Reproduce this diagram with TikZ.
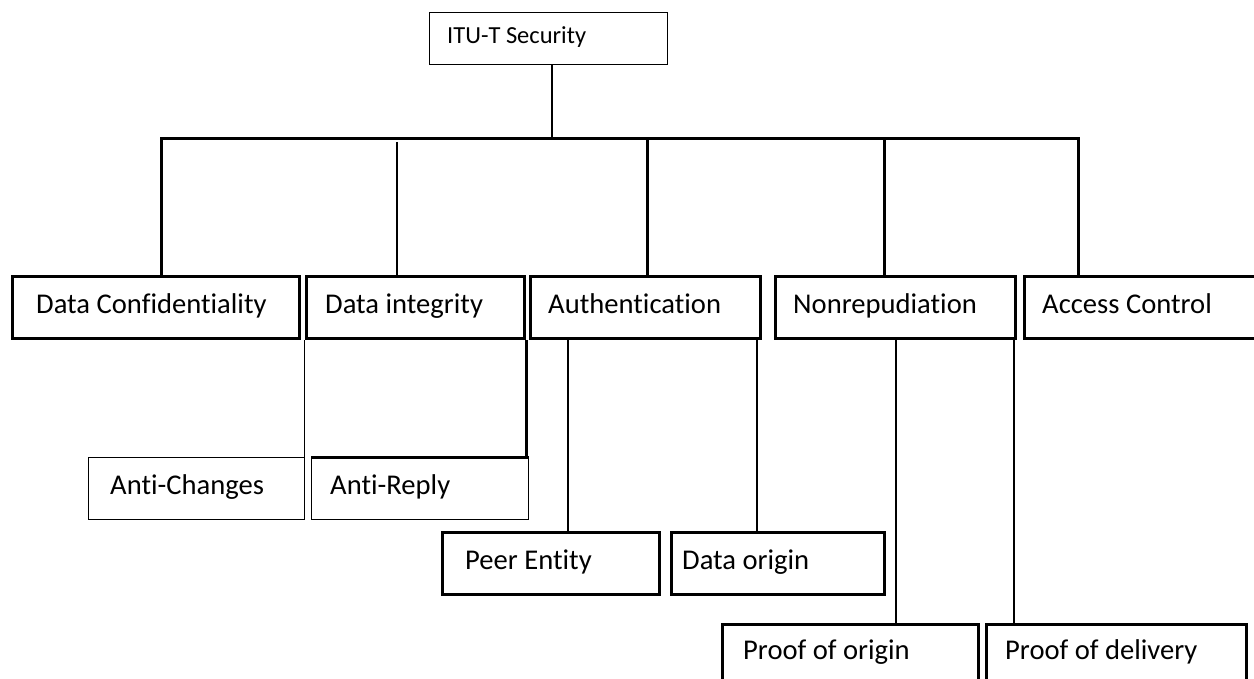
\documentclass[tikz,border=0pt]{standalone}
\usepackage{fontspec}
\setmainfont{Carlito}[Ligatures=CommonOff]
\begin{document}
\begin{tikzpicture}[x=1pt,y=-1pt,
  boxk/.style={draw, line width=3pt, anchor=north west, inner sep=0pt, minimum height=62pt},
  boxn/.style={draw, line width=1pt, anchor=north west, inner sep=0pt, minimum height=62pt},
  lbl/.style={anchor=base west, inner sep=0pt, font=\fontsize{28.6}{34}\selectfont},
  thinline/.style={line width=1.3pt},
  thickline/.style={line width=3pt}]
\useasboundingbox (0,0) rectangle (1254,679);
\clip (0,0) rectangle (1254,679);

% root
\node[boxn, line width=1.2pt, minimum width=238pt, minimum height=52pt] (top) at (429,12) {};
\node[lbl, font=\fontsize{24.5}{30}\selectfont] (topt) at ([xshift=18pt,yshift=-32pt]top.north west) {ITU-T Security};

% first row
\node[boxk, minimum width=287pt] (dc) at (11,275) {};
\node[lbl] (dct) at ([xshift=25pt,yshift=-39pt]dc.north west) {Data Confidentiality};
\node[boxk, minimum width=218pt] (di) at (305,275) {};
\node[lbl] (dit) at ([xshift=20pt,yshift=-39pt]di.north west) {Data integrity};
\node[boxk, minimum width=230pt] (au) at (529,275) {};
\node[lbl] (aut) at ([xshift=19pt,yshift=-39pt]au.north west) {Authentication};
\node[boxk, minimum width=240pt] (nr) at (774,275) {};
\node[lbl] (nrt) at ([xshift=19pt,yshift=-39pt]nr.north west) {Nonrepudiation};
\node[boxk, minimum width=240pt] (ac) at (1023,275) {};
\node[lbl] (act) at ([xshift=19pt,yshift=-39pt]ac.north west) {Access Control};

% data integrity children
\node[boxn, minimum width=216pt] (ach) at (88,457) {};
\node[lbl] (acht) at ([xshift=22pt,yshift=-37pt]ach.north west) {Anti-Changes};
\node[boxn, minimum width=217pt] (ar) at (311,457) {};
\node[lbl] (art) at ([xshift=19pt,yshift=-37pt]ar.north west) {Anti-Reply};

% authentication children
\node[boxk, minimum width=217pt] (pe) at (441,531) {};
\node[lbl] (pet) at ([xshift=24pt,yshift=-38pt]pe.north west) {Peer Entity};
\node[boxk, minimum width=213pt] (do) at (670,531) {};
\node[lbl] (dot) at ([xshift=12pt,yshift=-38pt]do.north west) {Data origin};

% nonrepudiation children
\node[boxk, minimum width=256pt] (po) at (721,623) {};
\node[lbl] (pot) at ([xshift=22pt,yshift=-36pt]po.north west) {Proof of origin};
\node[boxk, minimum width=260pt] (pd) at (985,623) {};
\node[lbl] (pdt) at ([xshift=20pt,yshift=-36pt]pd.north west) {Proof of delivery};

% bus and connectors
\coordinate (busL) at (161,139);
\coordinate (busR) at (1078,139);
\coordinate (xtop) at (552,0);
\draw[thinline] (xtop |- top.south) -- (xtop |- busL);
\draw[thickline] (dc.north -| busL) -- (busL) -- (busR) -- (busR |- ac.north);
\coordinate (xau) at (647,139);
\draw[thickline] (xau) -- (xau |- au.north);
\coordinate (xnr) at (884,139);
\draw[thickline] (xnr) -- (xnr |- nr.north);
\coordinate (xdi) at (397,142);
\draw[thinline] (xdi) -- (xdi |- di.north);

\coordinate (xach) at (304.5,470);
\draw[thinline] (xach |- di.south) -- (xach);
\draw[thickline] (di.south east) -- (di.south east |- ar.north);
\draw[thickline] (ar.north west) -- (ar.north east);

\coordinate (xpe) at (568,0);
\draw[thinline] (xpe |- au.south) -- (xpe |- pe.north);
\coordinate (xdo) at (757,0);
\draw[thinline] (xdo |- au.south) -- (xdo |- do.north);

\coordinate (xpo) at (896,0);
\draw[thinline] (xpo |- nr.south) -- (xpo |- po.north);
\coordinate (xpd) at (1014,0);
\draw[thinline] (xpd |- nr.south) -- (xpd |- pd.north);
\end{tikzpicture}
\end{document}
